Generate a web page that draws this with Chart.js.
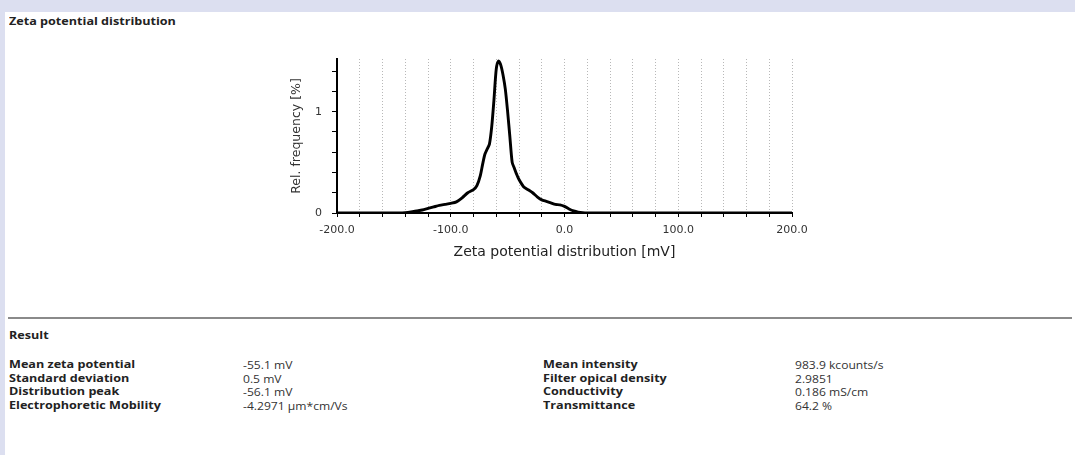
<!DOCTYPE html>
<html>
<head>
<meta charset="utf-8">
<script src="https://cdn.jsdelivr.net/npm/chart.js@4"></script>
<style>
  html, body { margin: 0; padding: 0; }
  body { width: 1075px; height: 455px; background: #dcdff0; position: relative; overflow: hidden;
         font-family: "Open Sans", sans-serif; color: #222; }
  #sheet { position: absolute; left: 5px; top: 12px; right: 0; bottom: 0; background: #fff; }
  .wide { transform: scaleX(1.2); transform-origin: 0 50%; }
  #title { position: absolute; left: 9px; top: 14px; font-size: 10.5px; font-weight: bold; white-space: nowrap; }
  #chartBox { position: absolute; left: 280px; top: 40px; width: 580px; height: 224px; }
  #sep { position: absolute; left: 8px; top: 317px; width: 1064px; height: 2px; background: #8a8a8a; }
  #result { position: absolute; left: 9px; top: 328px; font-size: 10.5px; font-weight: bold; }
  .cell { position: absolute; line-height: 13.5px; white-space: nowrap; transform-origin: 0 50%; }
  .lab { font-size: 10.5px; font-weight: bold; color: #222; transform: scaleX(1.2); }
  .val { font-size: 11px; color: #333; transform: scaleX(1.1); }
</style>
</head>
<body>
<div id="sheet"></div>
<div id="title" class="wide">Zeta potential distribution</div>
<div id="chartBox"><canvas id="myChart"></canvas></div>
<div id="sep"></div>
<div id="result" class="wide">Result</div>
<div id="table"></div>
<script>
// zeta potential (mV) and relative frequency (%)
var zetaMv = [-200, -145, -140, -135, -130, -125, -120, -115, -110, -105, -100, -95, -90, -85, -80,
  -77, -74, -72, -70, -68, -66, -64, -62, -60, -58, -56, -54, -52, -50, -48, -46, -44, -42, -40,
  -36, -32, -28, -24, -20, -16, -12, -8, -4, 0, 4, 8, 12, 16, 20, 200];
var relFreq = [0, 0, 0.003, 0.01, 0.02, 0.03, 0.045, 0.06, 0.075, 0.085, 0.095, 0.11, 0.15, 0.2, 0.23,
  0.27, 0.37, 0.48, 0.58, 0.63, 0.68, 0.85, 1.12, 1.42, 1.5, 1.46, 1.36, 1.22, 1.0, 0.75, 0.5, 0.44, 0.38, 0.33,
  0.26, 0.23, 0.2, 0.16, 0.13, 0.115, 0.1, 0.085, 0.08, 0.065, 0.04, 0.02, 0.008, 0.002, 0, 0];

var xTickValues = [-200, -180, -160, -140, -120, -100, -80, -60, -40, -20, 0, 20, 40, 60, 80, 100, 120, 140, 160, 180, 200];
var xTickLabels = { '-200': '-200.0', '-100': '-100.0', '0': '0.0', '100': '100.0', '200': '200.0' };
var yTickValues = [0, 0.2, 0.4, 0.6, 0.8, 1, 1.2, 1.4];
var yTickLabels = { '0': '0', '1': '1' };

// result table
var leftLabels = ['Mean zeta potential', 'Standard deviation', 'Distribution peak', 'Electrophoretic Mobility'];
var leftValues = ['-55.1 mV', '0.5 mV', '-56.1 mV', '-4.2971 \u00b5m*cm/Vs'];
var rightLabels = ['Mean intensity', 'Filter opical density', 'Conductivity', 'Transmittance'];
var rightValues = ['983.9 kcounts/s', '2.9851', '0.186 mS/cm', '64.2 %'];

var table = document.getElementById('table');
function addColumn(items, x, cls) {
  items.forEach(function (t, i) {
    var d = document.createElement('div');
    d.className = 'cell ' + cls;
    d.style.left = x + 'px';
    d.style.top = (358 + i * 13.6) + 'px';
    d.textContent = t;
    table.appendChild(d);
  });
}
addColumn(leftLabels, 9, 'lab');
addColumn(leftValues, 243, 'val');
addColumn(rightLabels, 543, 'lab');
addColumn(rightValues, 795, 'val');

var points = zetaMv.map(function (x, i) { return { x: x, y: relFreq[i] }; });

var ctx = document.getElementById('myChart').getContext('2d');
var myChart = new Chart(ctx, {
  type: 'line',
  data: {
    datasets: [{
      data: points,
      borderColor: '#000',
      borderWidth: 2.9,
      pointRadius: 0,
      tension: 0.25,
      fill: false
    }]
  },
  options: {
    responsive: true,
    maintainAspectRatio: false,
    animation: false,
    layout: { padding: { top: 19, right: 68, left: 0, bottom: 0 } },
    plugins: { legend: { display: false }, tooltip: { enabled: false } },
    scales: {
      x: {
        type: 'linear',
        min: -200,
        max: 200,
        afterBuildTicks: function (s) { s.ticks = xTickValues.map(function (v) { return { value: v }; }); },
        afterFit: function (s) { s.height = 51; },
        ticks: {
          autoSkip: false,
          maxRotation: 0,
          padding: 7,
          color: '#333',
          font: { family: 'DejaVu Sans', size: 11 },
          callback: function (v) { return xTickLabels[String(v)] || ''; }
        },
        grid: {
          color: '#b8b8b8',
          lineWidth: 1,
          tickColor: '#000',
          tickLength: 4,
          tickBorderDash: []
        },
        border: { display: true, color: '#000', width: 2, dash: [1, 2] },
        title: {
          display: true,
          text: 'Zeta potential distribution [mV]',
          color: '#222',
          font: { family: 'DejaVu Sans', size: 14 },
          padding: { top: 0, bottom: 3 }
        }
      },
      y: {
        min: 0,
        max: 1.52,
        afterBuildTicks: function (s) { s.ticks = yTickValues.map(function (v) { return { value: v }; }); },
        afterFit: function (s) { s.width = 57; },
        ticks: {
          padding: 10,
          color: '#333',
          font: { family: 'DejaVu Sans', size: 11 },
          callback: function (v) { return yTickLabels[String(v)] || ''; }
        },
        grid: {
          drawOnChartArea: false,
          tickColor: '#000',
          tickLength: 5
        },
        border: { display: true, color: '#000', width: 2 },
        title: {
          display: true,
          text: 'Rel. frequency [%]',
          color: '#333',
          font: { family: 'DejaVu Sans', size: 12.5 },
          padding: { top: 9, bottom: 0 }
        }
      }
    }
  }
});
</script>
</body>
</html>
